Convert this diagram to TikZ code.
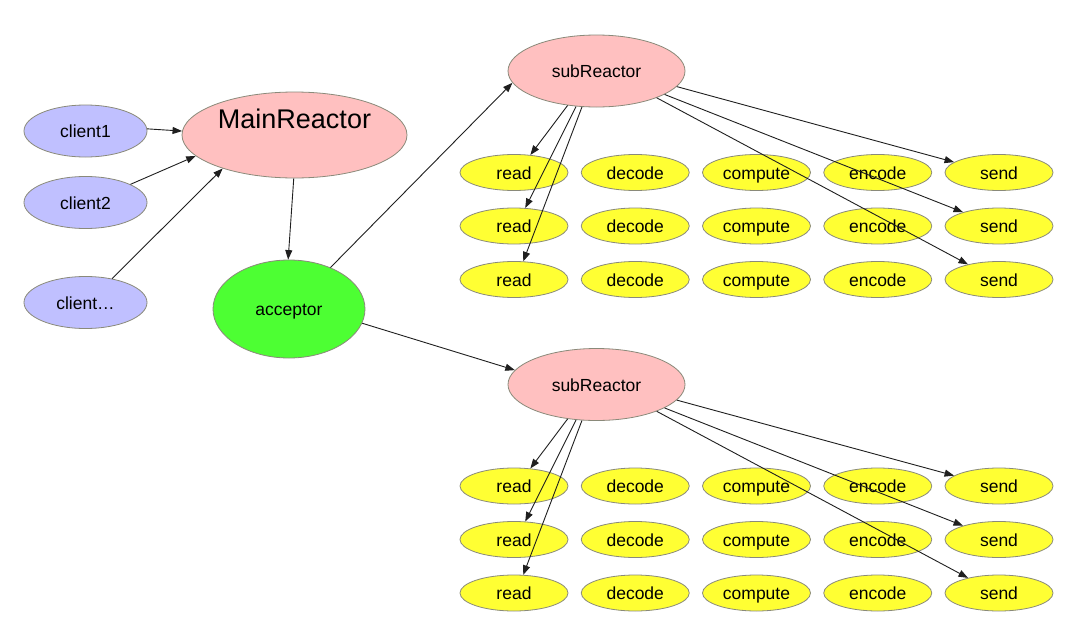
\documentclass[tikz,border=0pt]{standalone}
\usepackage{fontspec}
\setmainfont{Liberation Sans}
\usetikzlibrary{shapes.geometric,arrows.meta}
\definecolor{clientfill}{HTML}{C0C0FF}
\definecolor{reactfill}{HTML}{FFC0C0}
\definecolor{accfill}{HTML}{4DFF33}
\definecolor{taskfill}{HTML}{FFFF33}
\definecolor{bordergray}{HTML}{8A8A7A}
\begin{document}
\begin{tikzpicture}[x=1pt,y=-1pt,
  base/.style={ellipse,draw=bordergray,line width=0.8pt,inner sep=0pt,text height=13pt,text depth=0pt,font=\fontsize{17.5}{20}\selectfont},
  client/.style={base,fill=clientfill,minimum width=123pt,minimum height=52pt},
  reactor/.style={base,fill=reactfill},
  acc/.style={base,fill=accfill,minimum width=152pt,minimum height=98pt},
  task/.style={base,fill=taskfill,minimum width=108pt,minimum height=36pt},
  conn/.style={draw=black!88,line width=0.9pt,-{Triangle[length=9.5pt,width=7pt]}}]
\useasboundingbox (0,0) rectangle (1080,635);
\fill[white] (0,0) rectangle (1080,635);

% clients
\node[client] (c1) at (85.5,131) {client1};
\node[client] (c2) at (85.5,202.5) {client2};
\node[client] (c3) at (85.5,302.5) {client\dots};

% main reactor and acceptor
\node[reactor,minimum width=225pt,minimum height=86pt,text height=0pt,text depth=12.6pt,font=\fontsize{27}{30}\selectfont] (main) at (294.5,135) {MainReactor};
\node[acc] (acc) at (289,309) {acceptor};

% sub reactors
\node[reactor,minimum width=177pt,minimum height=72pt] (subA) at (596.5,71) {subReactor};
\node[reactor,minimum width=177pt,minimum height=72pt] (subB) at (596.5,384.5) {subReactor};

% task grids
\foreach \g/\oy in {A/0,B/313.5} {
  \foreach \lab [count=\c] in {read,decode,compute,encode,send} {
    \foreach \r in {1,2,3} {
      \node[task] (\g\c\r) at ({514+(\c-1)*121.25},{172.5+(\r-1)*53.5+\oy}) {\lab};
    }
  }
}

% connectors
\draw[conn] (c1.2) -- (main.178.5);
\draw[conn] (c2.22) -- (main.-168);
\draw[conn] (c3.42) -- (main.-155);
\draw[conn] (main.-91) -- (acc.91);
\draw[conn] (acc.45) -- (subA.-172);
\draw[conn] (acc.-11) -- (subB.170);

\foreach \g in {A,B} {
  \draw[conn] (sub\g.-130) -- (\g11.47);
  \draw[conn] (sub\g.-120.4) -- (\g12.58);
  \draw[conn] (sub\g.-112.2) -- (\g13.63);
  \draw[conn] (sub\g.-11.9) -- (\g51.167.2);
  \draw[conn] (sub\g.-19.5) -- (\g52.159.3);
  \draw[conn] (sub\g.-24.8) -- (\g53.154);
}
\end{tikzpicture}
\end{document}
